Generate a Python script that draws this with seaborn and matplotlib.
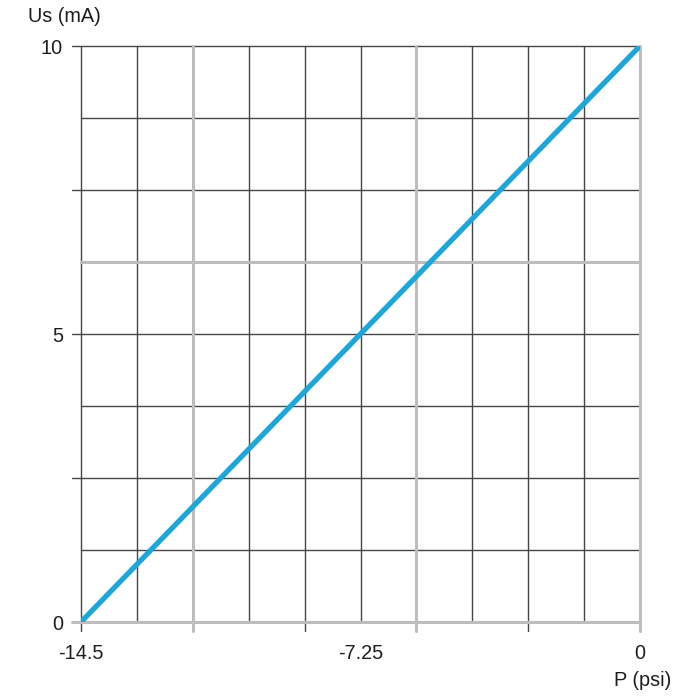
import matplotlib
matplotlib.use("Agg")
import matplotlib.pyplot as plt
import seaborn as sns
import pandas as pd

# data
pressure_psi = [-14.5, 0.0]
current_ma = [0.0, 10.0]

x_tick_values = [-14.5, -7.25, 0]
x_tick_labels = ["-14.5", "-7.25", "0"]
y_tick_values = [0, 5, 10]
y_tick_labels = ["0", "5", "10"]

x_grid = [-14.5, -13.05, -11.6, -10.15, -8.7, -7.25, -5.8, -4.35, -2.9, -1.45, 0.0]
x_grid_light = [2, 6, 10]
x_grid_ext = [0, 2, 4, 6, 8, 10]
y_grid = [0, 1.25, 2.5, 3.75, 5, 6.25, 7.5, 8.75, 10]
y_grid_light = [0, 5]
y_grid_ext = [0, 2, 4, 6, 8]

sns.set_theme(style="white")
plt.rcParams['font.family'] = ['Liberation Sans', 'DejaVu Sans']

fig = plt.figure(figsize=(7, 7), dpi=100)
ax = fig.add_axes([81/700, 78/700, (640-81)/700, (622-46)/700])

DARK = "#454545"
LIGHT = "#bdbdbd"
ext_x = 9 / 576.0
ext_y = 9 / 559.0

for k, xv in enumerate(x_grid):
    light = k in x_grid_light
    ax.axvline(xv, ymin=-ext_x if k in x_grid_ext else 0, ymax=1,
               color=LIGHT if light else DARK, lw=2.2 if light else 1.0,
               clip_on=False, zorder=2 if light else 1)
for k, yv in enumerate(y_grid):
    light = k in y_grid_light
    ax.axhline(yv, xmin=-ext_y if k in y_grid_ext else 0, xmax=1,
               color=LIGHT if light else DARK, lw=2.2 if light else 1.0,
               clip_on=False, zorder=2 if light else 1)

df = pd.DataFrame({"P": pressure_psi, "Us": current_ma})
sns.lineplot(data=df, x="P", y="Us", ax=ax, color="#1fa6d8", lw=3.8, zorder=5)

ax.set_xlim(-14.5, 0)
ax.set_ylim(0, 10)
for s in ax.spines.values():
    s.set_visible(False)

FS = 14.3
ax.set_xticks(x_tick_values)
ax.set_xticklabels(x_tick_labels)
ax.set_yticks(y_tick_values)
ax.set_yticklabels(y_tick_labels)
ax.tick_params(axis="x", length=0, pad=15.5, labelsize=FS, labelcolor="#1e1e1e")
ax.tick_params(axis="y", length=0, pad=13, labelsize=FS, labelcolor="#1e1e1e")
ax.set_xlabel("")
ax.set_ylabel("")

fig.text(28/700, 1 - 17/700, "Us (mA)", ha="left", va="center", fontsize=FS, color="#1e1e1e")
fig.text(643/700, 1 - 680/700, "P (psi)", ha="center", va="center", fontsize=FS, color="#1e1e1e")

fig.savefig("out.png", dpi=100, facecolor="white")
